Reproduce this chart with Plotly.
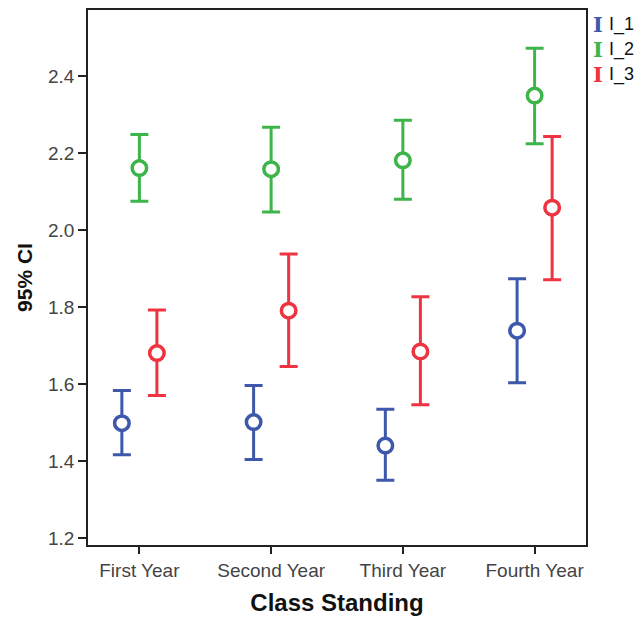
import plotly.graph_objects as go

categories = ["First Year", "Second Year", "Third Year", "Fourth Year"]
series_names = ["I_1", "I_2", "I_3"]
series_colors = ["#3E58AC", "#3DB54A", "#EF3340"]
offsets = [-0.133, 0.0, 0.133]

means = {
    "I_1": [1.499, 1.502, 1.441, 1.739],
    "I_2": [2.161, 2.158, 2.181, 2.349],
    "I_3": [1.681, 1.791, 1.685, 2.058],
}
upper = {
    "I_1": [1.584, 1.597, 1.535, 1.874],
    "I_2": [2.248, 2.267, 2.285, 2.472],
    "I_3": [1.793, 1.938, 1.827, 2.243],
}
lower = {
    "I_1": [1.417, 1.405, 1.351, 1.604],
    "I_2": [2.075, 2.047, 2.080, 2.224],
    "I_3": [1.571, 1.646, 1.547, 1.871],
}
y_ticks = [1.2, 1.4, 1.6, 1.8, 2.0, 2.2, 2.4]

fig = go.Figure()
for name, color, off in zip(series_names, series_colors, offsets):
    m = means[name]
    up = [u - v for u, v in zip(upper[name], m)]
    lo = [v - l for l, v in zip(lower[name], m)]
    xs = [i + off for i in range(len(categories))]
    fig.add_trace(go.Scatter(
        x=xs, y=m, mode="markers", name=name, showlegend=False,
        marker=dict(symbol="circle-open", size=15, color=color,
                    line=dict(width=3, color=color)),
        error_y=dict(type="data", symmetric=False, array=up, arrayminus=lo,
                     color=color, thickness=3, width=9),
    ))
    fig.add_trace(go.Scatter(
        x=xs, y=m, mode="markers", showlegend=False, hoverinfo="skip",
        marker=dict(symbol="circle", size=14, color="white",
                    line=dict(width=3, color=color)),
    ))

for k, (name, color) in enumerate(zip(series_names, series_colors)):
    yy = 0.972 - k * 0.0465
    fig.add_annotation(xref="paper", yref="paper", x=1.011, y=yy, text="<b>I</b>",
                       showarrow=False, xanchor="left", yanchor="middle",
                       font=dict(family="DejaVu Serif", size=21, color=color))
    fig.add_annotation(xref="paper", yref="paper", x=1.043, y=yy, text=name,
                       showarrow=False, xanchor="left", yanchor="middle",
                       font=dict(family="Liberation Sans", size=18, color="#111"))

fig.update_layout(
    width=638, height=620,
    margin=dict(l=88, r=52, t=8, b=75),
    plot_bgcolor="white", paper_bgcolor="white",
    font=dict(family="Liberation Sans", size=19, color="#444"),
)
fig.update_xaxes(
    range=[-0.39, 3.39], tickmode="array",
    tickvals=list(range(len(categories))), ticktext=categories,
    showline=True, linecolor="#222", linewidth=1.5, mirror=True,
    ticks="outside", ticklen=7, tickcolor="#222", tickwidth=1.5,
    showgrid=False, zeroline=False,
    tickfont=dict(size=19, color="#444"),
    title=dict(text="<b>Class Standing</b>", font=dict(size=24, color="#111"), standoff=15),
)
fig.update_yaxes(
    range=[1.183, 2.571], tickmode="array", tickvals=y_ticks,
    ticktext=[f"{v:.1f}" for v in y_ticks],
    showline=True, linecolor="#222", linewidth=1.5, mirror=True,
    ticks="outside", ticklen=8, tickcolor="#222", tickwidth=1.5,
    showgrid=False, zeroline=False,
    tickfont=dict(size=19, color="#444"),
    title=dict(text="<b>95% CI</b>", font=dict(size=21, color="#111"), standoff=10),
)

fig.write_html("out.html")
